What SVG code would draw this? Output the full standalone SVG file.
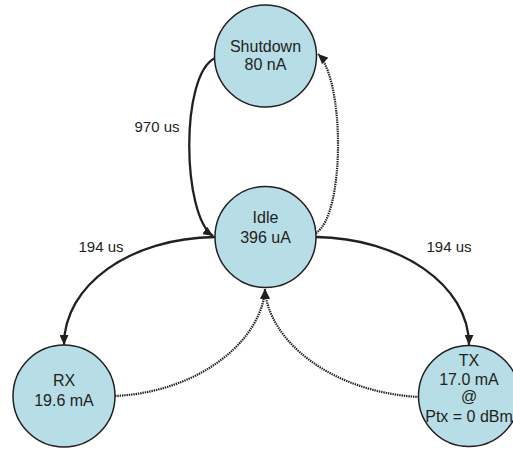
<svg xmlns="http://www.w3.org/2000/svg" width="513" height="449" viewBox="0 0 513 449">
<style>
.node{fill:#b7dde6;stroke:#231f20;stroke-width:1.5}
.t{font-family:"Liberation Sans",Arial,sans-serif;font-size:16px;fill:#231f20;text-anchor:middle}
.lbl{font-family:"Liberation Sans",Arial,sans-serif;font-size:15px;fill:#231f20;text-anchor:middle}
.solid{fill:none;stroke:#231f20;stroke-width:2.3;marker-end:url(#arr)}
.dot{fill:none;stroke:#231f20;stroke-width:2.2;stroke-dasharray:1.4 0.9;marker-end:url(#arr)}
</style>
<defs>
<marker id="arr" markerUnits="userSpaceOnUse" markerWidth="11" markerHeight="9" refX="10" refY="4.5" orient="auto">
<path d="M0,0 L10,4.5 L0,9 z" fill="#231f20"/>
</marker>
</defs>
<rect width="513" height="449" fill="#fff"/>
<g id="connectors">
<path class="solid" d="M215,58 C180,75 182,215 213,236"/>
<path class="dot" d="M316,233 C345,215 345,80 318,54"/>
<path class="solid" d="M215,237 C130,238 64,285 64,345"/>
<path class="solid" d="M316,237 C400,238 469,285 469,345"/>
<path class="dot" d="M115,396 C200,392 262,340 265,289"/>
<path class="dot" d="M419,397 C330,392 268,340 265,289"/>
</g>
<g id="labels">
<text class="lbl" x="157" y="132">970 us</text>
<text class="lbl" x="101" y="252">194 us</text>
<text class="lbl" x="449" y="252">194 us</text>
</g>
<g id="shutdown">
<circle class="node" cx="265.5" cy="56" r="51"/>
<text class="t" x="265.5" y="52">Shutdown</text>
<text class="t" x="265.5" y="70">80 nA</text>
</g>
<g id="idle">
<circle class="node" cx="265.5" cy="237" r="50.5"/>
<text class="t" x="265.5" y="223">Idle</text>
<text class="t" x="265.5" y="243">396 uA</text>
</g>
<g id="rx">
<circle class="node" cx="64" cy="396" r="51"/>
<text class="t" x="64" y="386">RX</text>
<text class="t" x="64" y="406">19.6 mA</text>
</g>
<g id="tx">
<circle class="node" cx="469" cy="396" r="50.5"/>
<text class="t" x="469" y="366">TX</text>
<text class="t" x="469" y="385">17.0 mA</text>
<text class="t" x="469" y="402">@</text>
<text class="t" x="469" y="422">Ptx = 0 dBm</text>
</g>
</svg>
